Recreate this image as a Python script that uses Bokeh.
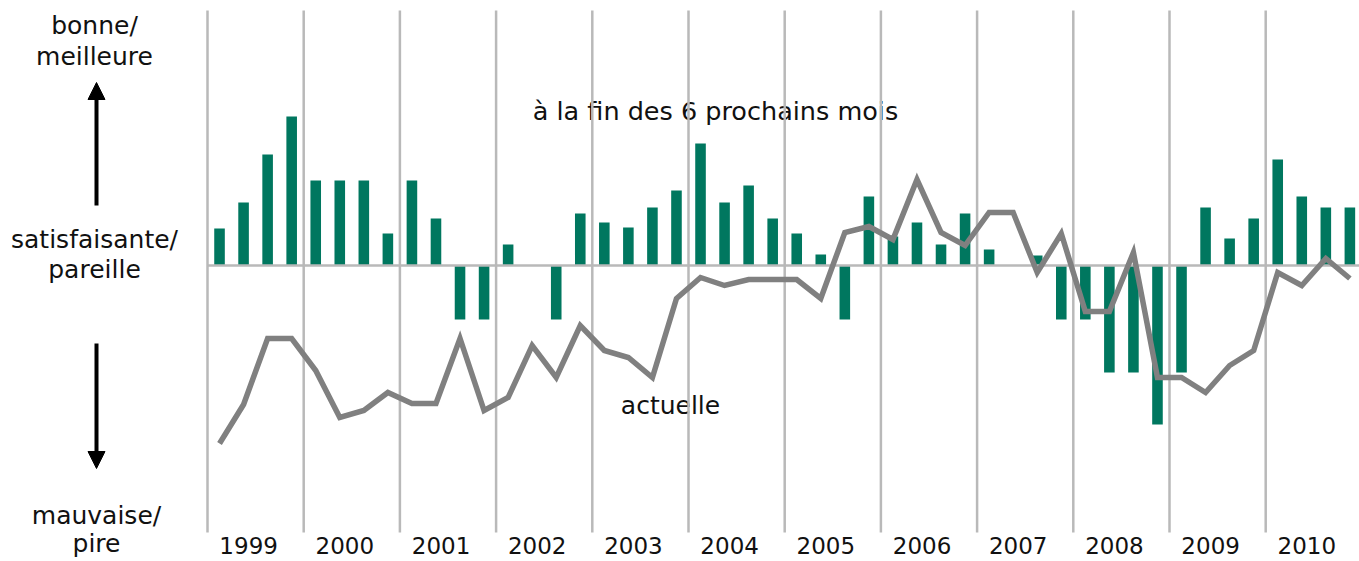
from bokeh.plotting import figure
from bokeh.models import Range1d, Arrow, NormalHead, ColumnDataSource
from bokeh.core.properties import value
from bokeh.embed import file_html
from bokeh.resources import INLINE

# ---- data (quarterly, 1999 Q1 .. 2010 Q4) ----
years = ["1999", "2000", "2001", "2002", "2003", "2004",
         "2005", "2006", "2007", "2008", "2009", "2010"]

# outlook "à la fin des 6 prochains mois" (bars)
outlook = [3.7, 6.3, 11.1, 14.9,
           8.5, 8.5, 8.5, 3.2,
           8.5, 4.7, -5.4, -5.4,
           2.1, 0.0, -5.4, 5.2,
           4.3, 3.8, 5.8, 7.5,
           12.2, 6.3, 8.0, 4.7,
           3.2, 1.1, -5.4, 6.9,
           2.9, 4.3, 2.1, 5.2,
           1.6, 0.0, 1.0, -5.4,
           -5.4, -10.7, -10.7, -15.9,
           -10.7, 5.8, 2.7, 4.7,
           10.6, 6.9, 5.8, 5.8]

# current situation "actuelle" (line)
current = [-17.8, -13.9, -7.3, -7.3,
           -10.5, -15.2, -14.5, -12.7,
           -13.8, -13.8, -7.3, -14.5,
           -13.2, -8.0, -11.2, -6.0,
           -8.5, -9.2, -11.2, -3.3,
           -1.2, -2.0, -1.4, -1.4,
           -1.4, -3.3, 3.3, 3.9,
           2.6, 8.6, 3.3, 2.0,
           5.3, 5.3, -0.7, 3.2,
           -4.6, -4.6, 1.3, -11.2,
           -11.2, -12.7, -10.0, -8.5,
           -0.7, -2.0, 0.7, -1.3]

n_q = len(outlook)
qx = [i + 0.5 for i in range(n_q)]
year_start = [4 * k for k in range(len(years) + 1)]
year_mid = [4 * k + 2 - 0.29 for k in range(len(years))]

# ---- layout helpers (page pixels -> data units) ----
PX_Q = 24.05   # pixels per quarter
X0 = 207.0     # page x of 1999 start
Z0 = 265.0     # page y of zero line
PX_U = 10.0    # pixels per value unit
ORIG = 0       # page offset of the canvas
TSHIFT = 8     # text baseline correction (px)


def X(px):
    return (px - X0) / PX_Q


def Y(py):
    return (Z0 - py) / PX_U


def YT(py):
    return Y(py - TSHIFT)


W, H = 1359, 561
p = figure(width=W, height=H, output_backend="svg", toolbar_location=None,
           x_axis_type=None, y_axis_type=None,
           x_range=Range1d(X(ORIG), X(ORIG + W)), y_range=Range1d(Y(ORIG + H), Y(ORIG)),
           min_border=0, outline_line_color=None)
p.background_fill_color = "white"
p.border_fill_color = "white"

FONT = value("DejaVu Sans")
TXT = "#111111"

# side labels
side = ColumnDataSource(dict(
    x=[X(94), X(94), X(94), X(94), X(96), X(96)],
    y=[YT(33), YT(64), YT(247), YT(277), YT(523), YT(551)],
    t=["bonne/", "meilleure", "satisfaisante/", "pareille", "mauvaise/", "pire"],
))
p.text(x="x", y="y", text="t", source=side, text_font=FONT, text_font_size="25px",
       text_align="center", text_baseline="alphabetic", text_color=TXT)

# series labels
p.text(x=[X(715)], y=[YT(118)], text=["à la fin des 6 prochains mois"], text_font=FONT,
       text_font_size="25.5px", text_align="center", text_baseline="alphabetic", text_color=TXT)
p.text(x=[X(670)], y=[YT(413)], text=["actuelle"], text_font=FONT,
       text_font_size="25px", text_align="center", text_baseline="alphabetic", text_color=TXT)

# year labels
p.text(x=year_mid, y=[YT(553)] * len(years), text=years, text_font=FONT,
       text_font_size="23px", text_align="center", text_baseline="alphabetic", text_color=TXT)

# arrows
p.add_layout(Arrow(end=NormalHead(size=17, fill_color="black", line_color="black"),
                   x_start=X(96), y_start=Y(205), x_end=X(96), y_end=Y(82),
                   line_width=4, line_color="black"))
p.add_layout(Arrow(end=NormalHead(size=17, fill_color="black", line_color="black"),
                   x_start=X(96), y_start=Y(343), x_end=X(96), y_end=Y(468),
                   line_width=4, line_color="black"))

# year separators
GRID = "#b9b9b9"
p.segment(x0=year_start, y0=[Y(10)] * len(year_start), x1=year_start,
          y1=[Y(532)] * len(year_start), line_color=GRID, line_width=2.5)

# bars
p.vbar(x=qx, top=outlook, bottom=0, width=0.44, fill_color="#00775F", line_color=None)

# zero line
p.segment(x0=[0], y0=[0], x1=[n_q], y1=[0], line_color=GRID, line_width=2.5)

# current line
p.line(x=qx, y=current, line_color="#808080", line_width=5.5, line_join="miter")

open("out.html", "w").write(file_html(p, INLINE))
